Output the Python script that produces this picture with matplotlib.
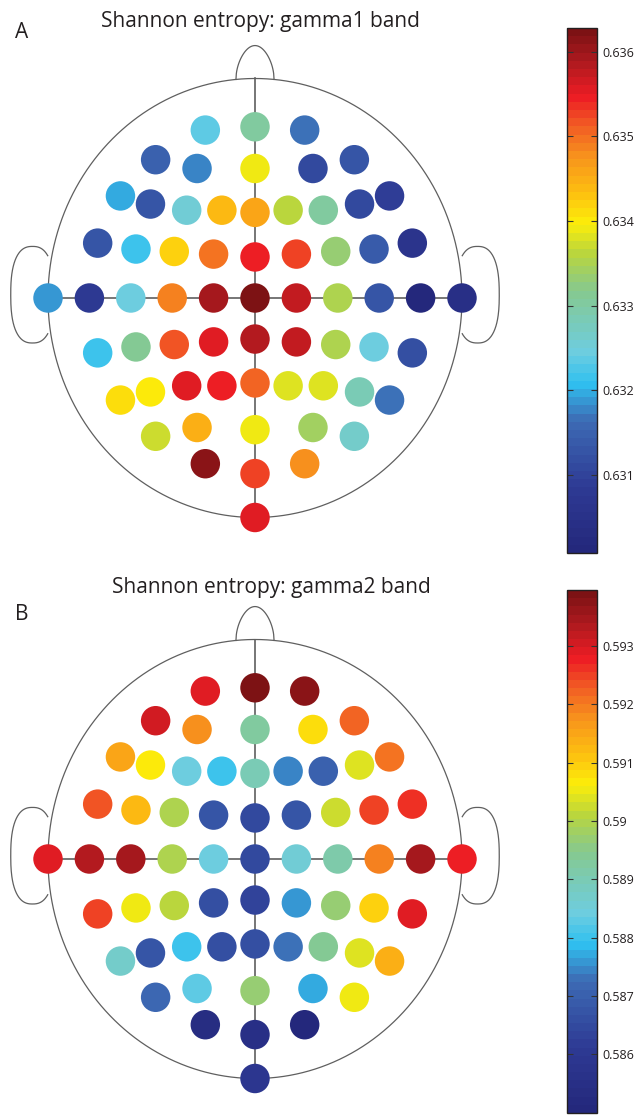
import numpy as np
import matplotlib
matplotlib.use("Agg")
import matplotlib.pyplot as plt
from matplotlib.colors import LinearSegmentedColormap, Normalize
from matplotlib.cm import ScalarMappable

plt.rcParams['font.family'] = ['Open Sans', 'DejaVu Sans']

# 64 channel montage (flattened 2D head coordinates, head radius = 1)
channels = ['Fp1', 'Fpz', 'Fp2',
            'AF7', 'AF3', 'AFz', 'AF4', 'AF8',
            'F7', 'F5', 'F3', 'F1', 'Fz', 'F2', 'F4', 'F6', 'F8',
            'FT7', 'FC5', 'FC3', 'FC1', 'FCz', 'FC2', 'FC4', 'FC6', 'FT8',
            'T9', 'T7', 'C5', 'C3', 'C1', 'Cz', 'C2', 'C4', 'C6', 'T8', 'T10',
            'TP7', 'CP5', 'CP3', 'CP1', 'CPz', 'CP2', 'CP4', 'CP6', 'TP8',
            'P7', 'P5', 'P3', 'P1', 'Pz', 'P2', 'P4', 'P6', 'P8',
            'PO7', 'PO3', 'POz', 'PO4', 'PO8',
            'O1', 'Oz', 'O2',
            'Iz']
ch_x = [-0.24, 0, 0.24,
        -0.48, -0.28, 0, 0.28, 0.48,
        -0.65, -0.505, -0.33, -0.16, 0, 0.16, 0.33, 0.505, 0.65,
        -0.76, -0.575, -0.39, -0.20, 0, 0.20, 0.39, 0.575, 0.76,
        -1.0, -0.8, -0.6, -0.4, -0.2, 0, 0.2, 0.4, 0.6, 0.8, 1.0,
        -0.76, -0.575, -0.39, -0.20, 0, 0.20, 0.39, 0.575, 0.76,
        -0.65, -0.505, -0.33, -0.16, 0, 0.16, 0.33, 0.505, 0.65,
        -0.48, -0.28, 0, 0.28, 0.48,
        -0.24, 0, 0.24,
        0]
ch_y = [0.765, 0.78, 0.765,
        0.63, 0.59, 0.59, 0.59, 0.63,
        0.465, 0.428, 0.40, 0.40, 0.39, 0.40, 0.40, 0.428, 0.465,
        0.25, 0.223, 0.212, 0.20, 0.187, 0.20, 0.212, 0.223, 0.25,
        0, 0, 0, 0, 0, 0, 0, 0, 0, 0, 0,
        -0.25, -0.223, -0.212, -0.20, -0.187, -0.20, -0.212, -0.223, -0.25,
        -0.465, -0.428, -0.40, -0.40, -0.387, -0.40, -0.40, -0.428, -0.465,
        -0.63, -0.59, -0.60, -0.59, -0.63,
        -0.755, -0.80, -0.755,
        -1.0]

# Shannon entropy per channel
gamma1 = [0.63231, 0.63299, 0.63163,
          0.63144, 0.63182, 0.63386, 0.63113, 0.63126,
          0.63200, 0.63132, 0.63256, 0.63436, 0.63454, 0.63361, 0.63306, 0.63113, 0.63089,
          0.63126, 0.63219, 0.63417, 0.63498, 0.63541, 0.63523, 0.63330, 0.63138, 0.63058,
          0.63188, 0.63082, 0.63244, 0.63485, 0.63597, 0.63628, 0.63578, 0.63349, 0.63126, 0.63008, 0.63045,
          0.63213, 0.63312, 0.63516, 0.63551, 0.63585, 0.63572, 0.63352, 0.63250, 0.63120,
          0.63408, 0.63396, 0.63551, 0.63544, 0.63504, 0.63380, 0.63377, 0.63281, 0.63169,
          0.63368, 0.63448, 0.63392, 0.63340, 0.63268,
          0.63616, 0.63529, 0.63479,
          0.63560]
gamma2 = [0.59297, 0.59396, 0.59378,
          0.59311, 0.59185, 0.58930, 0.59078, 0.59217,
          0.59145, 0.59060, 0.58849, 0.58804, 0.58894, 0.58750, 0.58696, 0.59037, 0.59208,
          0.59235, 0.59118, 0.58992, 0.58669, 0.58643, 0.58678, 0.59019, 0.59252, 0.59266,
          0.59284, 0.59329, 0.59351, 0.58997, 0.58840, 0.58651, 0.58858, 0.58912, 0.59194, 0.59342, 0.59275,
          0.59244, 0.59055, 0.59010, 0.58660, 0.58634, 0.58759, 0.58974, 0.59096, 0.59284,
          0.58876, 0.58678, 0.58795, 0.58660, 0.58660, 0.58732, 0.58939, 0.59033, 0.59136,
          0.58714, 0.58822, 0.58965, 0.58777, 0.59046,
          0.58535, 0.58553, 0.58499,
          0.58589]

titles = ['Shannon entropy: gamma1 band', 'Shannon entropy: gamma2 band']
panel_labels = ['A', 'B']
cbar_ticks = [[0.631, 0.632, 0.633, 0.634, 0.635, 0.636],
              [0.586, 0.587, 0.588, 0.589, 0.590, 0.591, 0.592, 0.593]]

# jet-like colormap as printed (muted)
jet_print = LinearSegmentedColormap.from_list('jet_print', [
    (0.00, '#24287c'), (0.12, '#2e3a94'), (0.25, '#3d6cb5'), (0.32, '#2fc0f0'),
    (0.38, '#6dcde0'), (0.50, '#86c98f'), (0.57, '#b8d53e'), (0.63, '#fcee0a'),
    (0.69, '#fdbe10'), (0.76, '#f7921d'), (0.82, '#f15a24'), (0.875, '#ed1c24'),
    (0.94, '#b01a1f'), (1.00, '#7d1214')], N=64)

W, H = 636, 1116
fig = plt.figure(figsize=(W / 100, H / 100), dpi=100)

CX, SX, SY = 255, 207, 219.5
line_c = '#5f5f5f'


def head_axes(cy):
    x0, x1, y0, y1 = -1.23, 1.23, -1.12, 1.22
    rect = [(CX + SX * x0) / W, 1 - (cy - SY * y0) / H,
            SX * (x1 - x0) / W, SY * (y1 - y0) / H]
    ax = fig.add_axes(rect)
    ax.set_xlim(x0, x1)
    ax.set_ylim(y0, y1)
    ax.axis('off')
    return ax


def draw_head(ax):
    t = np.linspace(0, 2 * np.pi, 400)
    ax.plot(np.cos(t), np.sin(t), color=line_c, lw=0.9)
    # nose
    u = np.linspace(-1, 1, 101)
    nx = 0.092 * u
    ny = np.sqrt(1 - nx ** 2) + 0.15 * np.cos(np.pi / 2 * u) ** 0.5
    ax.plot(nx, ny, color=line_c, lw=0.9)
    # ears
    te = np.radians(np.linspace(50, 310, 200))
    ex = 0.105 * np.sign(np.cos(te)) * np.abs(np.cos(te)) ** 0.8
    ey = 0.015 + 0.22 * np.sign(np.sin(te)) * np.abs(np.sin(te)) ** 0.8
    ax.plot(-1.075 + ex, ey, color=line_c, lw=0.9)
    ax.plot(1.075 - ex, ey, color=line_c, lw=0.9)
    # midlines
    ax.plot([-1, 1], [0, 0], color=line_c, lw=1.2, zorder=1)
    ax.plot([0, 0], [1, -1], color=line_c, lw=1.2, zorder=1)


panels = [
    dict(values=gamma1, cy=298, vmin=0.63008, vmax=0.63628, cbar=(28, 553),
         title_xy=(260, 22), label_y=32),
    dict(values=gamma2, cy=859, vmin=0.58499, vmax=0.59396, cbar=(590, 1113),
         title_xy=(271, 588), label_y=615),
]

for i, p in enumerate(panels):
    ax = head_axes(p['cy'])
    draw_head(ax)
    norm = Normalize(vmin=p['vmin'], vmax=p['vmax'])
    ax.scatter(ch_x, ch_y, c=p['values'], cmap=jet_print, norm=norm,
               s=450, linewidths=0, zorder=3, clip_on=False)

    tx, ty = p['title_xy']
    fig.text(tx / W, 1 - ty / H, titles[i], ha='center', va='center',
             fontsize=15, color='#231f20')
    fig.text(22 / W, 1 - p['label_y'] / H, panel_labels[i], ha='center',
             va='center', fontsize=15, color='#231f20')

    top, bot = p['cbar']
    cax = fig.add_axes([567 / W, 1 - bot / H, 30 / W, (bot - top) / H])
    cb = fig.colorbar(ScalarMappable(norm=norm, cmap=jet_print), cax=cax)
    cb.set_ticks(cbar_ticks[i])
    cb.set_ticklabels(['%g' % v for v in cbar_ticks[i]])
    cb.outline.set_linewidth(1.0)
    cb.outline.set_edgecolor('#231f20')
    cax.tick_params(direction='in', left=True, right=True, length=4,
                    width=0.8, color='#333333', labelsize=9, pad=4,
                    labelcolor='#231f20')

fig.savefig('out.png', dpi=100)
